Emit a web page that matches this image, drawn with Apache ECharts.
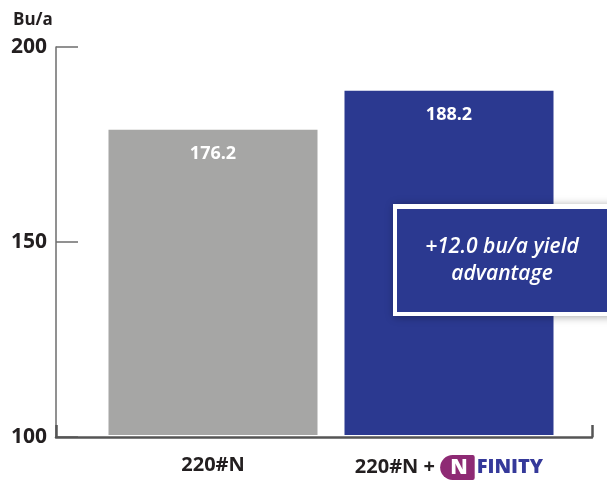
<!DOCTYPE html>
<html>
<head>
<meta charset="utf-8">
<script src="https://cdn.jsdelivr.net/npm/echarts@6/dist/echarts.min.js"></script>
<style>
html,body{margin:0;padding:0;background:#fff;}
#chart{width:607px;height:480px;}
</style>
</head>
<body>
<div id="chart"></div>
<script>
// ---- data ----
const categories = ['220#N', '220#N + NFINITY'];
const barValues = [178.7, 188.7];          // bar heights as drawn
const valueLabels = ['176.2', '188.2'];    // printed value labels
const barColors = ['#a6a6a5', '#2b3990'];
const yMin = 100, yMax = 200, yStep = 50;
const unitLabel = 'Bu/a';
const calloutText = '+12.0 bu/a yield\nadvantage';

const FONT = '"Open Sans", Lato, sans-serif';
const chart = echarts.init(document.getElementById('chart'));

chart.setOption({
  animation: false,
  backgroundColor: '#ffffff',
  title: {
    text: unitLabel, left: 8, top: 7,
    textStyle: { fontFamily: FONT, fontWeight: 'bold', fontSize: 17, color: '#231f20' }
  },
  grid: [
    { left: 95, right: 40, top: 47, bottom: 43 },
    { left: 56, right: 15, top: 47, bottom: 43 }
  ],
  xAxis: [
    {
      type: 'category', gridIndex: 0, data: categories,
      axisLine: { show: false }, axisTick: { show: false },
      axisLabel: {
        interval: 0, margin: 20, fontFamily: FONT, fontWeight: 'bold', fontSize: 20, color: '#231f20',
        formatter: function (v, i) {
          if (i === 1) return '220#N + {logo|N}{fin|FINITY}';
          return v;
        },
        rich: {
          logo: {
            color: '#ffffff', backgroundColor: '#8e2a74', fontFamily: FONT, fontWeight: 800,
            fontSize: 21, padding: [3, 7, 1, 10], borderRadius: [13, 2, 2, 13]
          },
          fin: { color: '#35399a', fontFamily: FONT, fontWeight: 800, fontSize: 20, padding: [0, 0, 0, 2] }
        }
      }
    },
    {
      type: 'value', gridIndex: 1, min: 0, max: 1, interval: 1, z: 5,
      axisLine: { show: true, lineStyle: { color: '#555555', width: 2.5 } },
      axisTick: { show: true, inside: true, length: 12, lineStyle: { color: '#555555', width: 2.5 } },
      axisLabel: { show: false }, splitLine: { show: false }
    }
  ],
  yAxis: [
    {
      type: 'value', gridIndex: 0, min: yMin, max: yMax, interval: yStep,
      show: false, splitLine: { show: false }
    },
    {
      type: 'value', gridIndex: 1, min: yMin, max: yMax, interval: yStep, z: 4,
      axisLine: { show: true, lineStyle: { color: '#6d6d6d', width: 1.5 } },
      axisTick: { show: true, inside: true, length: 22, lineStyle: { color: '#6d6d6d', width: 1.5 } },
      axisLabel: { margin: 9, fontFamily: FONT, fontWeight: 'bold', fontSize: 21, color: '#231f20' },
      splitLine: { show: false }
    }
  ],
  series: [{
    type: 'bar', xAxisIndex: 0, yAxisIndex: 0, barWidth: 209,
    data: barValues.map((v, i) => ({ value: v, itemStyle: { color: barColors[i] } })),
    label: {
      show: true, position: 'insideTop', distance: 15,
      fontFamily: FONT, fontWeight: 'bold', fontSize: 18, color: '#ffffff',
      formatter: p => valueLabels[p.dataIndex]
    }
  }],
  graphic: [
    {
      type: 'rect', z: 100, shape: { x: 393, y: 204, width: 230, height: 112 },
      style: { fill: '#ffffff', shadowBlur: 8, shadowColor: 'rgba(0,0,0,0.35)', shadowOffsetX: 1, shadowOffsetY: 1 }
    },
    {
      type: 'rect', z: 101, shape: { x: 397, y: 209, width: 220, height: 103 },
      style: { fill: '#2b3990' }
    },
    {
      type: 'text', z: 102, x: 502, y: 261,
      style: {
        text: calloutText, fill: '#ffffff', align: 'center', verticalAlign: 'middle',
        fontFamily: FONT, fontStyle: 'italic', fontWeight: 600, fontSize: 21, lineHeight: 27
      }
    }
  ]
});
</script>
</body>
</html>
